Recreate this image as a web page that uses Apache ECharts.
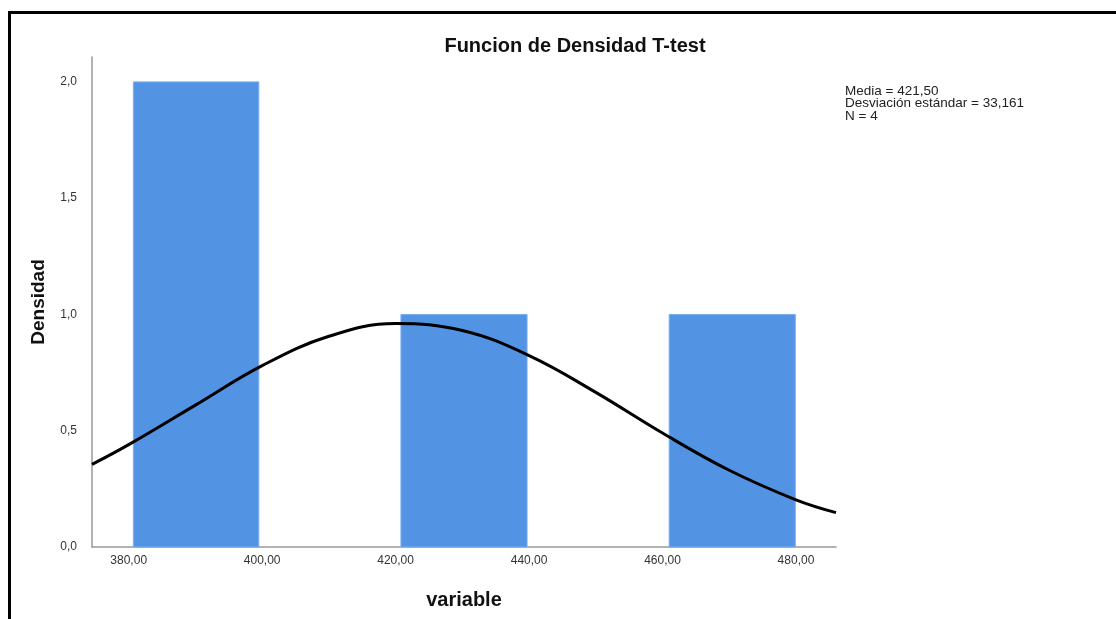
<!DOCTYPE html>
<html>
<head>
<meta charset="utf-8">
<script src="https://cdn.jsdelivr.net/npm/echarts@6/dist/echarts.min.js"></script>
<style>
html,body{margin:0;padding:0;background:#fff;}
#chart{width:1116px;height:619px;}
</style>
</head>
<body>
<div id="chart"></div>
<script>
// Histogram bins: [start, end, density]
const binStarts = [380.7, 420.8, 461.0];
const binEnds = [399.5, 439.7, 479.9];
const binValues = [2, 1, 1];
// Normal curve points
const curveX = [374.5, 380, 390, 400, 410, 420, 430, 440, 450, 460, 470, 480, 486];
const curveY = [0.355, 0.44, 0.61, 0.78, 0.906, 0.961, 0.931, 0.823, 0.665, 0.49, 0.33, 0.203, 0.148];
const xTicks = [380, 400, 420, 440, 460, 480];
const yTicks = [0, 0.5, 1.0, 1.5, 2.0];
const statsLines = ['Media = 421,50', 'Desviación estándar = 33,161', 'N = 4'];

const chart = echarts.init(document.getElementById('chart'));
const font = 'Liberation Sans, Arial, sans-serif';

const barData = binStarts.map((s, i) => [s, binEnds[i], binValues[i]]);
const lineData = curveX.map((x, i) => [x, curveY[i]]);

chart.setOption({
  backgroundColor: '#fff',
  animation: false,
  title: {
    text: 'Funcion de Densidad T-test',
    left: 570, top: 31, textAlign: 'center',
    textStyle: {fontFamily: font, fontSize: 20, fontWeight: 'bold', color: '#111'}
  },
  grid: {left: 92, right: 280, top: 57, bottom: 72},
  xAxis: {
    type: 'value', min: 374.5, max: 486,
    name: 'variable', nameLocation: 'middle', nameGap: 43,
    nameTextStyle: {fontFamily: font, fontSize: 20, fontWeight: 'bold', color: '#111'},
    axisLine: {show: true, lineStyle: {color: '#999', width: 1.5}},
    axisTick: {show: false},
    splitLine: {show: false},
    axisLabel: {
      customValues: xTicks, margin: 8,
      fontFamily: font, fontSize: 12, color: '#333',
      formatter: v => v.toFixed(2).replace('.', ',')
    }
  },
  yAxis: {
    type: 'value', min: 0, max: 2.107,
    name: 'Densidad', nameLocation: 'middle', nameGap: 44,
    nameTextStyle: {fontFamily: font, fontSize: 19, fontWeight: 'bold', color: '#111'},
    axisLine: {show: true, lineStyle: {color: '#999', width: 1.5}},
    axisTick: {show: false},
    splitLine: {show: false},
    axisLabel: {
      customValues: yTicks, margin: 15,
      fontFamily: font, fontSize: 12, color: '#333',
      formatter: v => v.toFixed(1).replace('.', ',')
    }
  },
  series: [
    {
      type: 'custom',
      data: barData,
      renderItem: function (params, api) {
        const p0 = api.coord([api.value(0), 0]);
        const p1 = api.coord([api.value(1), api.value(2)]);
        return {
          type: 'rect',
          shape: {x: p0[0], y: p1[1], width: p1[0] - p0[0], height: p0[1] - p1[1]},
          style: {fill: '#5294e3', stroke: '#79aef0', lineWidth: 1}
        };
      },
      z: 2
    },
    {
      type: 'line',
      data: lineData,
      smooth: 0.4,
      showSymbol: false,
      lineStyle: {color: '#000', width: 3},
      z: 3
    }
  ],
  graphic: [
    {type: 'rect', shape: {x: 8, y: 11, width: 1108, height: 3}, style: {fill: '#000'}},
    {type: 'rect', shape: {x: 8, y: 11, width: 3, height: 608}, style: {fill: '#000'}},
    {
      type: 'text', left: 845, top: 84,
      style: {text: statsLines.join('\n'), fontFamily: font, fontSize: 13.5, lineHeight: 12.5, fill: '#222'}
    }
  ]
});
</script>
</body>
</html>
